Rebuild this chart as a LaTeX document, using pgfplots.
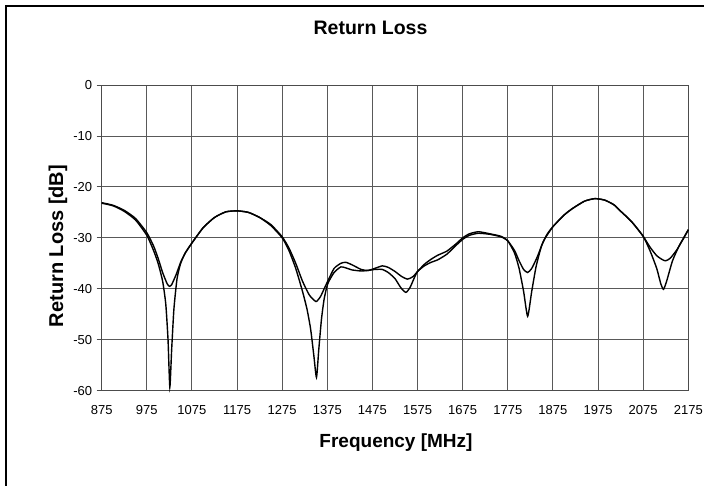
\documentclass[border=0pt]{standalone}
\usepackage{pgfplots}
\pgfplotsset{compat=1.18}
\usepackage{fontspec}
\setmainfont{Liberation Sans}

\pgfplotstableread{
f db
875 -23.1
900 -23.6
925 -24.6
950 -26.2
975 -29.0
990 -31.6
1000 -34.0
1010 -36.8
1020 -39.0
1025 -39.5
1030 -39.2
1040 -37.2
1050 -34.8
1060 -33.0
1075 -31.0
1100 -28.0
1125 -26.0
1150 -24.9
1175 -24.7
1200 -25.0
1225 -26.0
1250 -27.4
1275 -29.8
1290 -32.0
1305 -35.0
1320 -38.5
1335 -41.2
1350 -42.5
1360 -41.5
1368 -40.0
1376 -38.5
1390 -36.0
1405 -35.0
1416 -34.8
1430 -35.3
1450 -36.2
1465 -36.4
1480 -36.0
1497 -35.5
1510 -35.8
1525 -36.6
1540 -37.6
1553 -38.1
1565 -37.6
1575 -36.6
1590 -35.2
1605 -34.2
1620 -33.4
1640 -32.6
1660 -31.2
1675 -30.0
1690 -29.2
1710 -28.8
1735 -29.2
1760 -29.7
1775 -30.6
1790 -32.5
1800 -34.5
1810 -36.2
1819 -36.8
1828 -36.0
1840 -33.8
1855 -30.5
1875 -27.8
1900 -25.5
1919 -24.2
1945 -22.8
1968 -22.3
1990 -22.6
2010 -23.5
2023 -24.6
2040 -26.0
2053 -27.2
2075 -29.7
2090 -31.8
2105 -33.5
2118 -34.3
2125 -34.5
2135 -34.0
2150 -32.3
2165 -30.0
2175 -28.4
}\curveA

\pgfplotstableread{
f db
875 -23.2
900 -23.7
925 -24.8
950 -26.5
975 -29.5
990 -32.5
1000 -35.0
1010 -38.5
1017 -43.0
1022 -50.0
1026 -59.3
1030 -52.0
1035 -44.0
1042 -38.0
1050 -35.0
1060 -33.0
1075 -31.0
1100 -28.0
1125 -26.0
1150 -24.9
1175 -24.7
1200 -25.0
1225 -26.0
1250 -27.6
1275 -30.0
1290 -32.5
1305 -36.0
1320 -40.5
1330 -44.0
1338 -47.9
1345 -53.0
1351 -57.4
1356 -52.0
1362 -46.0
1368 -42.0
1376 -39.0
1390 -36.8
1405 -35.7
1416 -35.9
1430 -36.3
1450 -36.5
1465 -36.4
1480 -36.2
1497 -36.2
1510 -36.8
1525 -38.0
1538 -39.8
1549 -40.7
1558 -39.8
1568 -37.8
1575 -36.6
1590 -35.5
1605 -34.8
1620 -34.3
1640 -33.2
1660 -31.5
1675 -30.3
1690 -29.5
1710 -29.1
1735 -29.3
1760 -29.8
1775 -30.6
1790 -33.0
1800 -36.0
1810 -40.5
1819 -45.4
1828 -40.5
1838 -35.5
1850 -31.5
1862 -29.3
1875 -27.8
1900 -25.5
1919 -24.2
1945 -22.8
1968 -22.3
1990 -22.6
2010 -23.5
2023 -24.6
2040 -26.0
2053 -27.2
2075 -29.7
2090 -32.5
2105 -36.0
2114 -39.0
2120 -40.1
2127 -38.5
2140 -34.5
2155 -31.5
2165 -30.0
2175 -28.4
}\curveB

\begin{document}
\begin{tikzpicture}
\useasboundingbox (0,0) rectangle (704pt,485pt);
\draw[line width=2pt] (6pt,-2pt) -- (6pt,479pt) -- (706pt,479pt);
\begin{axis}[
  at={(101.7pt,94.3pt)}, anchor=south west,
  scale only axis, width=586.6pt, height=305.7pt,
  xmin=875, xmax=2175, ymin=-60, ymax=0,
  xtick={875,975,...,2175},
  xticklabels={875,975,1075,1175,1275,1375,1475,1575,1675,1775,1875,1975,2075,2175},
  ytick={-60,-50,...,0},
  yticklabels={-60,-50,-40,-30,-20,-10,0},
  grid=major,
  grid style={black!65, line width=0.9pt},
  axis line style={black!70, line width=1pt},
  tick align=outside, major tick length=5pt,
  tick style={black!70, line width=0.9pt},
  xtick style={draw=none},
  ytick pos=left, xtick pos=bottom,
  ticklabel style={font=\fontsize{13}{15}\selectfont},
  xticklabel style={yshift=-6pt},
  yticklabel style={xshift=-1pt},
  clip=false,
]
\addplot[black, line width=1.4pt, smooth, tension=0.35] table[x=f,y=db] {\curveA};
\addplot[black, line width=1.4pt, smooth, tension=0.35] table[x=f,y=db] {\curveB};
\end{axis}
\node[anchor=base, font=\bfseries\fontsize{19.5}{22}\selectfont] at (370.5pt,450pt) {Return Loss};
\node[anchor=base, font=\bfseries\fontsize{19}{22}\selectfont] at (396pt,38pt) {Frequency [MHz]};
\node[anchor=base, rotate=90, font=\bfseries\fontsize{20}{22}\selectfont] at (63pt,239pt) {Return Loss [dB]};
\end{tikzpicture}
\end{document}
